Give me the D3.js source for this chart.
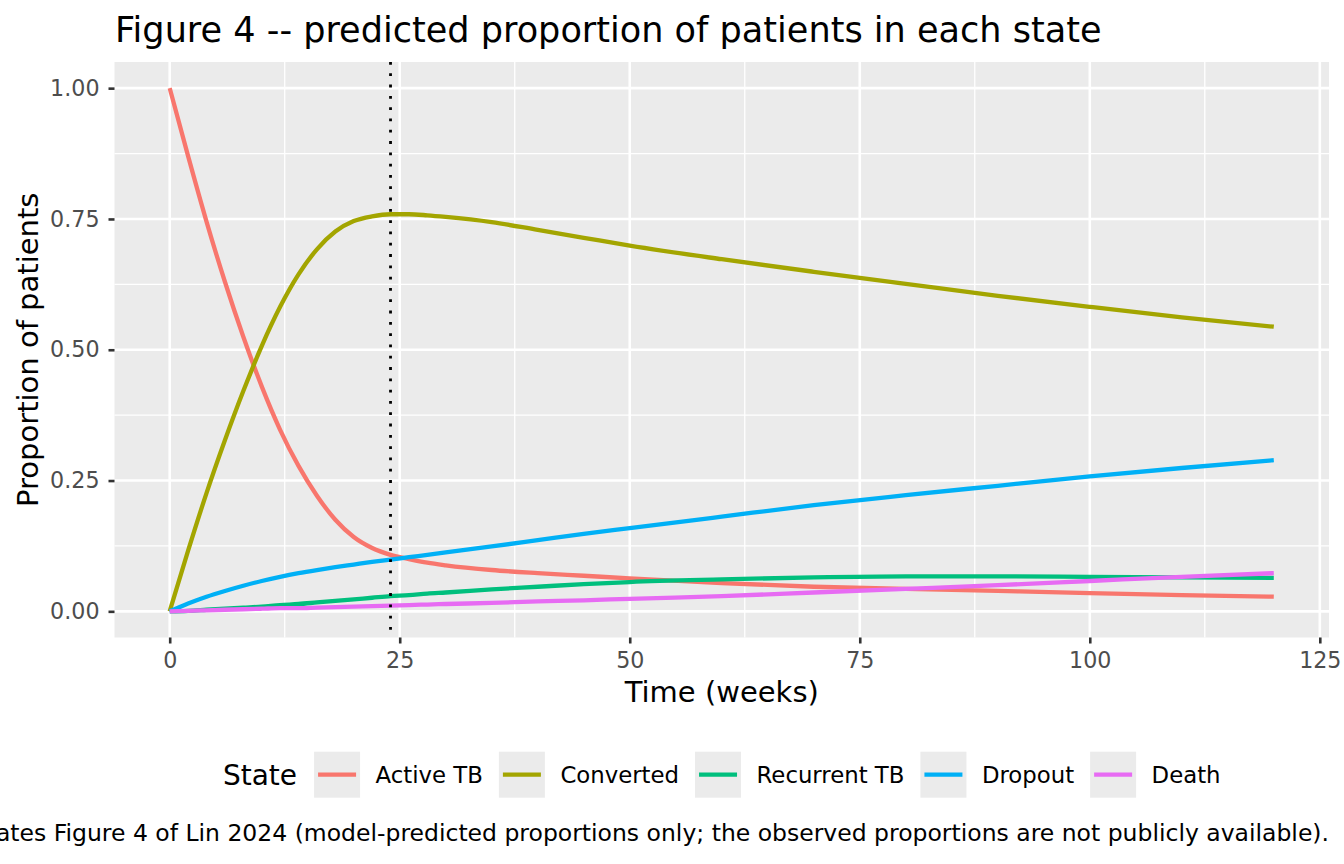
<!DOCTYPE html>
<html>
<head>
<meta charset="utf-8">
<script src="https://cdn.jsdelivr.net/npm/d3@7"></script>
<style>
  body { margin: 0; background: #fff; }
  text { font-family: "DejaVu Sans", sans-serif; }
</style>
</head>
<body>
<script>

// weeks since start of treatment
const weeks = [0, 2, 4, 6, 8, 10, 12, 14, 16, 18, 20, 22, 24, 26, 28, 30, 35, 40, 45, 50, 60, 70, 80, 90, 100, 110, 120];

const activeTB    = [1.000, 0.870, 0.745, 0.630, 0.525, 0.430, 0.347, 0.278, 0.221, 0.175, 0.142, 0.121, 0.108, 0.100, 0.093, 0.088, 0.079, 0.073, 0.068, 0.063, 0.054, 0.047, 0.043, 0.039, 0.035, 0.031, 0.028];
const converted   = [0.000, 0.116, 0.226, 0.327, 0.421, 0.507, 0.582, 0.644, 0.692, 0.726, 0.746, 0.755, 0.759, 0.759, 0.757, 0.754, 0.744, 0.729, 0.714, 0.699, 0.673, 0.649, 0.626, 0.603, 0.582, 0.562, 0.544];
const recurrentTB = [0.000, 0.001, 0.003, 0.005, 0.007, 0.009, 0.012, 0.014, 0.017, 0.020, 0.023, 0.026, 0.029, 0.031, 0.034, 0.036, 0.042, 0.047, 0.052, 0.056, 0.061, 0.065, 0.067, 0.067, 0.066, 0.065, 0.064];
const dropout     = [0.000, 0.015, 0.028, 0.039, 0.049, 0.058, 0.066, 0.073, 0.079, 0.0845, 0.0895, 0.0945, 0.099, 0.1035, 0.108, 0.1125, 0.124, 0.136, 0.148, 0.159, 0.181, 0.203, 0.222, 0.240, 0.258, 0.274, 0.289];
const death       = [0.000, 0.001, 0.002, 0.003, 0.004, 0.005, 0.006, 0.006, 0.007, 0.008, 0.009, 0.010, 0.011, 0.012, 0.013, 0.014, 0.016, 0.019, 0.021, 0.024, 0.029, 0.036, 0.043, 0.050, 0.058, 0.066, 0.073];

const states = ['Active TB', 'Converted', 'Recurrent TB', 'Dropout', 'Death'];
const stateValues = [activeTB, converted, recurrentTB, dropout, death];
const stateColors = ['#F8766D', '#A3A500', '#00BF7D', '#00B0F6', '#E76BF3'];

const xTicks = [0, 25, 50, 75, 100, 125];
const xMinor = [12.5, 37.5, 62.5, 87.5, 112.5];
const yTicks = [0, 0.25, 0.5, 0.75, 1];
const yMinor = [0.125, 0.375, 0.625, 0.875];
const cutoffWeek = 24;

const titleText = 'Figure 4 -- predicted proportion of patients in each state';
const captionText = 'Replicates Figure 4 of Lin 2024 (model-predicted proportions only; the observed proportions are not publicly available).';

const WIDTH = 1344,
      HEIGHT = 864;

const PANEL = { left: 114.5, right: 1329, top: 62, bottom: 637.5 };

const FONT = {
  title: 35.1,
  axisTitle: 29,
  tick: 22.2,
  legendTitle: 28,
  legendText: 22.8,
  caption: 23.5
};

const svg = d3.select('body').append('svg')
  .attr('width', WIDTH)
  .attr('height', HEIGHT);

svg.append('rect')
  .attr('width', WIDTH)
  .attr('height', HEIGHT)
  .attr('fill', '#fff');

const x = d3.scaleLinear().domain([-6, 126]).range([PANEL.left, PANEL.right]);
const y = d3.scaleLinear().domain([-0.05, 1.05]).range([PANEL.bottom, PANEL.top]);

// panel background
svg.append('rect')
  .attr('x', PANEL.left)
  .attr('y', PANEL.top)
  .attr('width', PANEL.right - PANEL.left)
  .attr('height', PANEL.bottom - PANEL.top)
  .attr('fill', '#EBEBEB');

const grid = svg.append('g').attr('stroke', '#fff');

grid.selectAll('.ymin').data(yMinor).enter().append('line')
  .attr('x1', PANEL.left).attr('x2', PANEL.right)
  .attr('y1', (d) => y(d)).attr('y2', (d) => y(d))
  .attr('stroke-width', 1.3);

grid.selectAll('.xmin').data(xMinor).enter().append('line')
  .attr('y1', PANEL.top).attr('y2', PANEL.bottom)
  .attr('x1', (d) => x(d)).attr('x2', (d) => x(d))
  .attr('stroke-width', 1.3);

grid.selectAll('.ymaj').data(yTicks).enter().append('line')
  .attr('x1', PANEL.left).attr('x2', PANEL.right)
  .attr('y1', (d) => y(d)).attr('y2', (d) => y(d))
  .attr('stroke-width', 2.6);

grid.selectAll('.xmaj').data(xTicks).enter().append('line')
  .attr('y1', PANEL.top).attr('y2', PANEL.bottom)
  .attr('x1', (d) => x(d)).attr('x2', (d) => x(d))
  .attr('stroke-width', 2.6);

// series
const line = d3.line()
  .x((d) => x(d[0]))
  .y((d) => y(d[1]))
  .curve(d3.curveMonotoneX);

svg.append('g').selectAll('path')
  .data(stateValues)
  .enter().append('path')
    .attr('d', (vals) => line(weeks.map((w, i) => [w, vals[i]])))
    .attr('fill', 'none')
    .attr('stroke', (d, i) => stateColors[i])
    .attr('stroke-width', 4.3)
    .attr('stroke-linejoin', 'round');

// end of treatment marker
svg.append('line')
  .attr('x1', x(cutoffWeek)).attr('x2', x(cutoffWeek))
  .attr('y1', PANEL.top).attr('y2', PANEL.bottom)
  .attr('stroke', '#000')
  .attr('stroke-width', 2.8)
  .attr('stroke-dasharray', '2.8 8.5');

// axes
const xAxis = svg.append('g')
  .attr('transform', `translate(0, ${PANEL.bottom})`)
  .call(d3.axisBottom(x).tickValues(xTicks).tickSize(6).tickPadding(9).tickFormat(d3.format('d')));

const yAxis = svg.append('g')
  .attr('transform', `translate(${PANEL.left}, 0)`)
  .call(d3.axisLeft(y).tickValues(yTicks).tickSize(6).tickPadding(9).tickFormat(d3.format('.2f')));

[xAxis, yAxis].forEach((ax) => {
  ax.select('.domain').remove();
  ax.selectAll('.tick line').attr('stroke', '#333').attr('stroke-width', 2.6);
  ax.selectAll('.tick text')
    .attr('fill', '#4D4D4D')
    .style('font-size', FONT.tick + 'px')
    .style('font-family', '"DejaVu Sans", sans-serif');
});

// titles
svg.append('text')
  .attr('x', 115)
  .attr('y', 42)
  .style('font-size', FONT.title + 'px')
  .text(titleText);

svg.append('text')
  .attr('x', (PANEL.left + PANEL.right) / 2)
  .attr('y', 702)
  .attr('text-anchor', 'middle')
  .style('font-size', FONT.axisTitle + 'px')
  .text('Time (weeks)');

svg.append('text')
  .attr('transform', `translate(37.5, ${(PANEL.top + PANEL.bottom) / 2}) rotate(-90)`)
  .attr('text-anchor', 'middle')
  .style('font-size', FONT.axisTitle + 'px')
  .text('Proportion of patients');

// legend
const legendY = 774.7,
      keySize = 46;

const legend = svg.append('g');

const legendTitle = legend.append('text')
  .attr('y', legendY + 0.35 * FONT.legendTitle)
  .style('font-size', FONT.legendTitle + 'px')
  .text('State');

let cursor = legendTitle.node().getComputedTextLength() + 17;

states.forEach((s, i) => {
  const item = legend.append('g').attr('transform', `translate(${cursor}, ${legendY - keySize / 2})`);
  item.append('rect')
    .attr('width', keySize)
    .attr('height', keySize)
    .attr('fill', '#EBEBEB');
  item.append('line')
    .attr('x1', 4).attr('x2', keySize - 4)
    .attr('y1', keySize / 2).attr('y2', keySize / 2)
    .attr('stroke', stateColors[i])
    .attr('stroke-width', 4.3);
  const label = item.append('text')
    .attr('x', keySize + 15.5)
    .attr('y', keySize / 2 + 0.35 * FONT.legendText)
    .style('font-size', FONT.legendText + 'px')
    .text(s);
  cursor += keySize + 15.5 + label.node().getComputedTextLength() + 16;
});

cursor -= 16;
legend.attr('transform', `translate(${(PANEL.left + PANEL.right) / 2 - cursor / 2}, 0)`);

// caption: right-aligned to the panel, runs off the left edge like the original
svg.append('text')
  .attr('x', PANEL.right)
  .attr('y', 841)
  .attr('text-anchor', 'end')
  .style('font-size', FONT.caption + 'px')
  .text(captionText);

</script>
</body>
</html>
